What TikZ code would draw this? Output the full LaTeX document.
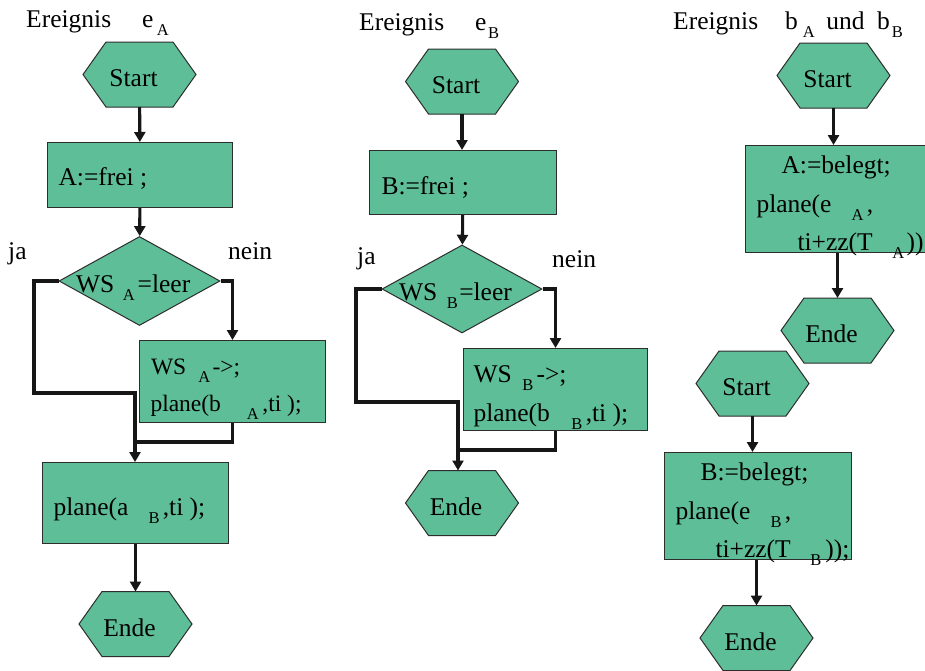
\documentclass[tikz,border=0pt]{standalone}
\usepackage{fontspec}
\setmainfont{Liberation Serif}
\usetikzlibrary{shapes.geometric,arrows.meta}

\definecolor{boxgreen}{RGB}{94,190,152}
\definecolor{edgegray}{RGB}{45,45,45}
\definecolor{wire}{RGB}{22,22,22}

% lowered index: gap before it, then the letter
\newcommand\sub[2]{\hspace{#1pt}\raisebox{-8pt}{\fontsize{16.5}{16.5}\selectfont #2}}
% box contents: width, font size, line distance, twice the drop of the last baseline below the centre, lines
\newcommand\boxtext[5]{%
  \makebox[#1pt][l]{\raisebox{0pt}[#4pt][0pt]{\fontsize{#2}{#3pt}\selectfont
    \begin{tabular}[b]{@{}l@{}}#5\end{tabular}}}}
% label of a hexagon or diamond, placed relative to the shape centre
\newcommand\hexlabel[1]{\raisebox{-12pt}[0pt][0pt]{\makebox[0pt]{#1\hspace*{12pt}}}}
\newcommand\dialabel[2]{\raisebox{-#1pt}[0pt][0pt]{\makebox[0pt][l]{#2}}}
% terminal symbol: name, x, y, text
\newcommand\hexnode[4]{%
  \filldraw[hexshape] (#2-56.5,#3) -- (#2-33.5,#3-32.5) -- (#2+33.5,#3-32.5)
    -- (#2+56.5,#3) -- (#2+33.5,#3+32.5) -- (#2-33.5,#3+32.5) -- cycle;
  \node[hexcore] (#1) at (#2,#3) {\hexlabel{#4}};}

\tikzset{
  hexshape/.style={draw=edgegray, fill=boxgreen, line width=1pt},
  hexcore/.style={rectangle, inner sep=0pt, outer sep=0pt, minimum width=113, minimum height=65},
  stepbox/.style={rectangle, draw=edgegray, fill=boxgreen, line width=1pt, inner sep=0pt, anchor=north west},
  decision/.style={diamond, draw=edgegray, fill=boxgreen, line width=1pt, inner sep=0pt},
  caption/.style={inner sep=0pt, anchor=base west},
  arr/.style={draw=wire, line width=3.1pt, -{Triangle[length=10pt,width=11pt]}},
  wireline/.style={draw=wire, line width=3.1pt},
}

\begin{document}
\begin{tikzpicture}[x=1pt, y=-1pt, font=\fontsize{25.5}{30}\selectfont]
\useasboundingbox (0,0) rectangle (925,670);

% ---------------- event e_A ----------------
\node[caption] (t1) at (26,27) {Ereignis\hspace{31pt}e\sub{3.5}{A}};
\hexnode{s1}{139.5}{74.5}{Start}
\node[stepbox, minimum height=65] (b1) at (47,142)
  {\boxtext{185}{25.5}{38.5}{21}{\hspace{11pt}A:=frei ;}};
\node[decision, minimum width=161, minimum height=89] (d1) at (139.5,281)
  {\dialabel{11}{\hspace*{-63.5pt}WS\sub{8.5}{A}\hspace{3pt}=leer}};
\node[caption] (ja1) at (8,259) {ja};
\node[caption] (nein1) at (228,259) {nein};
\node[stepbox, minimum height=82] (b2) at (139,340)
  {\boxtext{186}{23.5}{37}{60}{\hspace{11.5pt}WS\sub{12}{A}\hspace{2.5pt}->;\\
   \hspace{11pt}plane(b\sub{26}{A}\hspace{3.5pt},ti );}};
\node[stepbox, minimum height=81] (b3) at (42,462)
  {\boxtext{186}{25.5}{38.5}{25}{\hspace{11pt}plane(a\sub{20}{B}\hspace{3.3pt},ti );}};
\hexnode{e1}{135.5}{624}{Ende}
\coordinate (L1) at (34,393);
\coordinate (J1) at (135,442);

\draw[arr] (s1) -- (b1);
\draw[arr] (b1) -- (d1);
\draw[arr] (d1.west) -| (L1) -| (b3.north -| J1);
\draw[arr] (d1.east) -| (b2.north);
\draw[wireline] (b2.south) |- (J1);
\draw[arr] (b3.south -| e1) -- (e1);

% ---------------- event e_B ----------------
\node[caption] (t2) at (359,30) {Ereignis\hspace{31pt}e\sub{1.7}{B}};
\hexnode{s2}{462}{81.5}{Start}
\node[stepbox, minimum height=64] (b4) at (369,150)
  {\boxtext{187}{25.5}{38.5}{24}{\hspace{12pt}B:=frei ;}};
\node[decision, minimum width=160, minimum height=88] (d2) at (462,289)
  {\dialabel{11}{\hspace*{-63pt}WS\sub{9.5}{B}\hspace{1.5pt}=leer}};
\node[caption] (ja2) at (357,264) {ja};
\node[caption] (nein2) at (552,267) {nein};
\node[stepbox, minimum height=82] (b5) at (463,348)
  {\boxtext{184}{25.5}{39}{64}{\hspace{10pt}WS\sub{10.5}{B}\hspace{3.3pt}->;\\
   \hspace{10pt}plane(b\sub{21.5}{B}\hspace{3.3pt},ti );}};
\hexnode{e2}{462}{503}{Ende}
\coordinate (L2) at (356,402);
\coordinate (J2) at (458,450);

\draw[arr] (s2) -- (s2 |- b4.north);
\draw[arr] (b4) -- (d2);
\draw[arr] (d2.west) -| (L2) -| (e2.north -| J2);
\draw[arr] (d2.east) -| (b5.north);
\draw[wireline] (b5.south) |- (J2);

% ---------------- events b_A and b_B ----------------
\node[caption] (t3) at (673,29)
  {Ereignis\hspace{27pt}b\sub{5}{A}\hspace{11.5pt}und\hspace{12.5pt}b\sub{2}{B}};
\hexnode{s3}{833.5}{75.5}{Start}
\node[stepbox, minimum height=107] (b6) at (745,145)
  {\boxtext{183}{25.5}{38.5}{103}{\hspace{36pt}A:=belegt;\\
   \hspace{11pt}plane(e\sub{20}{A}\hspace{3.5pt},\\
   \hspace{52pt}ti+zz(T\sub{19.5}{A}\hspace{2.5pt}))}};
\hexnode{e3}{837.5}{330.5}{Ende}
\hexnode{s4}{752.5}{383.5}{Start}
\node[stepbox, minimum height=107] (b7) at (664,452)
  {\boxtext{187}{25.5}{38.5}{103}{\hspace{36pt}B:=belegt;\\
   \hspace{11pt}plane(e\sub{20}{B}\hspace{3.3pt},\\
   \hspace{51pt}ti+zz(T\sub{19.5}{B}\hspace{4pt}));}};
\hexnode{e4}{756.5}{638}{Ende}

\draw[arr] (s3) -- (s3 |- b6.north);
\draw[arr] (e3 |- b6.south) -- (e3);
\draw[arr] (s4) -- (s4 |- b7.north);
\draw[arr] (e4 |- b7.south) -- (e4);
\end{tikzpicture}
\end{document}
